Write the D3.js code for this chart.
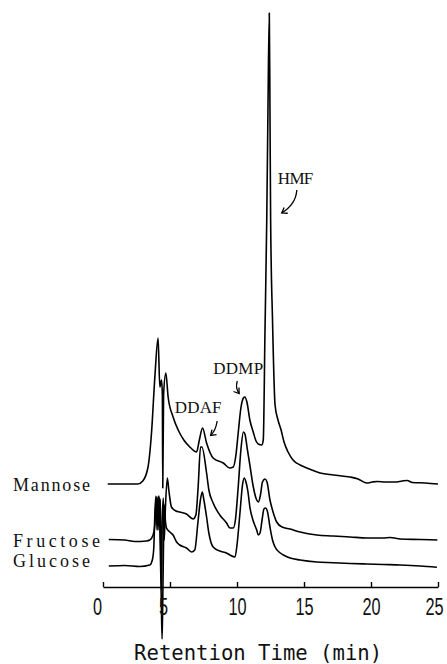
<!DOCTYPE html>
<html>
<head>
<meta charset="utf-8">
<script src="https://cdn.jsdelivr.net/npm/d3@7"></script>
<style>
  body { margin: 0; background: #fff; }
  svg { display: block; }
</style>
</head>
<body>
<div id="chart"></div>
<script>
// retention time (min) and detector response (arbitrary units, stacked offsets included)
const mannoseTime = [0.35, 2.59, 2.97, 3.36, 3.62, 3.87, 4.11, 4.24, 4.37, 4.43, 4.46, 4.52, 4.69, 4.86, 5.23, 5.61, 6.03, 6.48, 6.98, 7.19, 7.43, 7.73, 8.22, 8.97, 9.47, 9.72, 9.92, 10.09, 10.29, 10.48, 10.59, 10.74, 10.96, 11.21, 11.42, 11.59, 11.84, 11.96, 12.09, 12.22, 12.31, 12.41, 12.46, 12.51, 12.65, 12.84, 13.06, 13.29, 13.51, 13.81, 14.18, 14.71, 15.21, 16.2, 17.2, 18.44, 19.04, 19.69, 20.1, 20.46, 21.06, 21.8, 22.33, 22.7, 23.08, 24.05, 25.0]
const mannoseSignal = [103, 103, 106, 120, 154, 210, 249, 200, 207, 192, 99, 192, 214, 190, 170, 157, 147, 140, 135, 147, 159, 144, 129, 124, 119, 120, 132, 154, 179, 189, 190, 185, 167, 155, 146, 143, 142, 147, 257, 367, 477, 574, 477, 367, 267, 182, 167, 157, 145, 135, 127, 122, 119, 114, 112, 110, 108, 104, 105, 105.5, 105, 105, 106, 106.5, 104.5, 104, 103]

const fructoseTime = [0.43, 1.62, 2.37, 3.24, 3.49, 3.74, 3.87, 3.96, 4.04, 4.11, 4.19, 4.26, 4.31, 4.37, 4.42, 4.5, 4.57, 4.65, 4.8, 4.91, 5.11, 5.44, 5.73, 6.23, 6.73, 6.93, 7.1, 7.28, 7.38, 7.73, 7.9, 8.22, 8.72, 9.22, 9.47, 9.72, 9.88, 10.09, 10.29, 10.48, 10.59, 10.78, 10.96, 11.19, 11.47, 11.59, 11.75, 11.9, 12.09, 12.24, 12.46, 12.69, 12.96, 13.36, 13.96, 14.71, 15.95, 17.17, 18.44, 19.69, 20.91, 21.43, 22.18, 23.67, 24.95]
const fructoseSignal = [47.5, 47, 45.5, 46, 47, 52, 62, 87, 90, 57, 89, 87, 42, -3, 67, 89, 47, 77, 109, 97, 80, 76, 75, 73, 68, 72, 100, 140, 140, 114, 97, 84, 72, 64, 59, 59, 67, 100, 137, 155, 153, 137, 122, 102, 87, 85, 92, 105, 108, 105, 87, 75, 65, 60, 58, 55, 52, 51, 50, 49, 49, 49.5, 48, 47.5, 47]

const glucoseTime = [0.43, 1.62, 2.74, 3.49, 3.68, 3.79, 3.88, 3.95, 4.03, 4.1, 4.19, 4.26, 4.35, 4.41, 4.46, 4.52, 4.57, 4.65, 4.74, 4.99, 5.23, 5.49, 5.73, 6.23, 6.61, 6.85, 7.08, 7.27, 7.41, 7.53, 7.73, 7.9, 8.22, 8.72, 9.22, 9.47, 9.85, 10.0, 10.22, 10.41, 10.54, 10.67, 10.82, 10.96, 11.19, 11.47, 11.59, 11.72, 11.87, 12.01, 12.14, 12.28, 12.46, 12.65, 12.84, 13.14, 13.46, 13.96, 14.71, 15.95, 17.17, 18.44, 19.69, 20.91, 22.18, 23.67, 24.92]
const glucoseSignal = [21, 21.5, 20.5, 22, 27, 39, 77, 91, 57, 87, 91, 47, -13, -52, -13, 47, 82, 67, 59, 55, 52, 45, 42, 39, 35, 37, 64, 87, 95, 87, 70, 54, 40, 36, 34, 32, 30, 42, 74, 102, 109, 105, 95, 80, 67, 57, 52, 54, 67, 78, 79, 75, 60, 47, 40, 35, 32, 29, 27, 25, 24.3, 23.5, 23, 22.5, 22, 21, 19.7]

const traceNames = ["Mannose", "Fructose", "Glucose"]
const traceLabelLevel = [96, 40, 20]
const xTicks = [0, 5, 10, 15, 20, 25]

const peakNames = ["DDAF", "DDMP", "HMF"]
const peakLabelTime = [5.36, 8.22, 13.04]
const peakLabelLevel = [174, 213, 403]
// arrows: start, bend, tip
const arrowStart = [[8.52, 166], [10.02, 206], [14.46, 397]]
const arrowBend = [[8.40, 156], [9.86, 199], [14.41, 383]]
const arrowTip = [[8.03, 151.5], [10.16, 193.5], [13.34, 374]]

const width = 447
const height = 664
const margin = { top: 12, right: 9, bottom: 77, left: 103 }

const svg = d3.select("#chart")
  .append("svg")
  .attr("width", width)
  .attr("height", height)

const xScale = d3.scaleLinear()
  .domain([0, 25])
  .range([margin.left, width - margin.right])

const yScale = d3.scaleLinear()
  .domain([0, 575])
  .range([height - margin.bottom, margin.top])

// traces
const traces = [
  { name: "Mannose", t: mannoseTime, v: mannoseSignal },
  { name: "Fructose", t: fructoseTime, v: fructoseSignal },
  { name: "Glucose", t: glucoseTime, v: glucoseSignal }
]

const line = d3.line()
  .x(d => xScale(d[0]))
  .y(d => yScale(d[1]))
  .curve(d3.curveMonotoneX)

svg.append("g")
  .selectAll("path")
  .data(traces)
  .join("path")
  .attr("d", d => line(d.t.map((t, i) => [t, d.v[i]])))
  .attr("fill", "none")
  .attr("stroke", "#000")
  .attr("stroke-width", 1.6)
  .attr("stroke-linejoin", "round")

// trace names
const labelWidths = [77, 87, 77]
svg.append("g")
  .selectAll("text")
  .data(traceNames)
  .join("text")
  .attr("x", 13)
  .attr("y", (d, i) => yScale(traceLabelLevel[i]))
  .attr("textLength", (d, i) => labelWidths[i])
  .attr("lengthAdjust", "spacing")
  .attr("font-family", "'Liberation Serif', serif")
  .attr("font-size", 18)
  .attr("fill", "#111")
  .text(d => d)

// x axis
const xAxis = svg.append("g")
  .attr("transform", `translate(0,${yScale(0)})`)
  .call(d3.axisBottom(xScale).tickValues(xTicks).tickSizeInner(-5).tickSizeOuter(0))

const labelShift = { 0: -6, 5: -7, 25: -4 }
xAxis.select(".domain").attr("stroke-width", 1.6)
xAxis.selectAll(".tick line").attr("stroke-width", 1.4)
xAxis.selectAll(".tick text")
  .attr("y", 0)
  .attr("dy", null)
  .attr("transform", d => `translate(${labelShift[d] || 0},28) scale(0.68,1)`)
  .attr("font-family", "'Liberation Sans', Arial, sans-serif")
  .attr("font-size", 24)
  .attr("fill", "#111")

svg.append("text")
  .attr("x", (xScale(2.3) + xScale(20.85)) / 2)
  .attr("y", 660)
  .attr("text-anchor", "middle")
  .attr("textLength", 248)
  .attr("lengthAdjust", "spacingAndGlyphs")
  .attr("font-family", "'DejaVu Sans Mono', monospace")
  .attr("font-size", 21)
  .attr("fill", "#111")
  .text("Retention Time (min)")

// peak names
const peakWidths = [46.7, 50, 35.6]
svg.append("g")
  .selectAll("text")
  .data(peakNames)
  .join("text")
  .attr("x", (d, i) => xScale(peakLabelTime[i]))
  .attr("y", (d, i) => yScale(peakLabelLevel[i]))
  .attr("textLength", (d, i) => peakWidths[i])
  .attr("lengthAdjust", "spacing")
  .attr("font-family", "'Liberation Serif', serif")
  .attr("font-size", 17)
  .attr("fill", "#111")
  .text(d => d)

// arrows
const arrows = svg.append("g")
  .attr("fill", "none")
  .attr("stroke", "#000")
  .attr("stroke-width", 1.3)

arrowStart.forEach((s, i) => {
  const p0 = [xScale(s[0]), yScale(s[1])]
  const pc = [xScale(arrowBend[i][0]), yScale(arrowBend[i][1])]
  const p1 = [xScale(arrowTip[i][0]), yScale(arrowTip[i][1])]
  const p = d3.path()
  p.moveTo(p0[0], p0[1])
  p.quadraticCurveTo(pc[0], pc[1], p1[0], p1[1])
  arrows.append("path").attr("d", p.toString())

  // arrow head
  const ang = Math.atan2(p1[1] - pc[1], p1[0] - pc[0])
  const len = 6
  const h = d3.path()
  h.moveTo(p1[0] - len * Math.cos(ang - 0.6), p1[1] - len * Math.sin(ang - 0.6))
  h.lineTo(p1[0], p1[1])
  h.lineTo(p1[0] - len * Math.cos(ang + 0.6), p1[1] - len * Math.sin(ang + 0.6))
  arrows.append("path").attr("d", h.toString())
})
</script>
</body>
</html>
